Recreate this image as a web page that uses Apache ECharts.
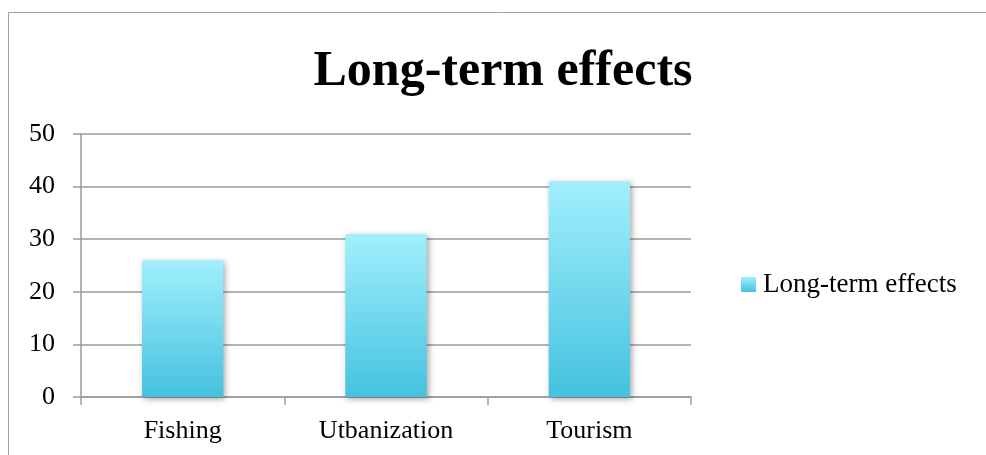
<!DOCTYPE html>
<html>
<head>
<meta charset="utf-8">
<style>
  html, body { margin: 0; padding: 0; background: #fff; }
  #chart { width: 986px; height: 455px; }
</style>
<script src="https://cdn.jsdelivr.net/npm/echarts@6/dist/echarts.min.js"></script>
</head>
<body>
<div id="chart"></div>
<script>
// Chart data
const categories = ['Fishing', 'Utbanization', 'Tourism'];
const seriesName = 'Long-term effects';
const values = [26, 31, 41];
const yTicks = [0, 10, 20, 30, 40, 50];

const serif = '"Liberation Serif", "DejaVu Serif", serif';
const gridColor = '#9a9a9a';

const chart = echarts.init(document.getElementById('chart'), null, { renderer: 'canvas' });

chart.setOption({
  animation: false,
  backgroundColor: '#ffffff',
  title: {
    text: 'Long-term effects',
    left: 498,
    textAlign: 'center',
    top: 42,
    textStyle: { fontFamily: serif, fontWeight: 'bold', fontSize: 50, color: '#000' }
  },
  legend: {
    data: [seriesName],
    icon: 'rect',
    left: 741,
    top: 271,
    padding: 0,
    itemWidth: 15,
    itemHeight: 15,
    textStyle: { fontFamily: serif, fontSize: 27, color: '#000', padding: [0, 0, 0, 2] }
  },
  graphic: [{
    type: 'polyline',
    shape: { points: [[8.5, 460], [8.5, 12.5], [990, 12.5]] },
    style: { stroke: '#a0a0a0', lineWidth: 1, fill: null },
    silent: true
  }],
  grid: { left: 81, right: 295, top: 134, bottom: 58 },
  xAxis: {
    type: 'category',
    data: categories,
    axisLine: { lineStyle: { color: gridColor, width: 1.5 } },
    axisTick: { show: true, length: 8, lineStyle: { color: gridColor, width: 1.5 } },
    axisLabel: { fontFamily: serif, fontSize: 26, color: '#000', margin: 21 }
  },
  yAxis: {
    type: 'value',
    min: yTicks[0],
    max: yTicks[yTicks.length - 1],
    interval: yTicks[1] - yTicks[0],
    axisLine: { show: true, lineStyle: { color: gridColor, width: 1.5 } },
    axisTick: { show: true, length: 8, lineStyle: { color: gridColor, width: 1.5 } },
    splitLine: { lineStyle: { color: gridColor, width: 1.5 } },
    axisLabel: { fontFamily: serif, fontSize: 26, color: '#000', margin: 26 }
  },
  series: [{
    name: seriesName,
    type: 'bar',
    data: values,
    barWidth: '40%',
    itemStyle: {
      color: new echarts.graphic.LinearGradient(0, 0, 0, 1, [
        { offset: 0, color: '#a2effd' },
        { offset: 1, color: '#44c2df' }
      ]),
      shadowColor: 'rgba(0,0,0,0.35)',
      shadowBlur: 6,
      shadowOffsetX: 2,
      shadowOffsetY: 2
    }
  }]
});
</script>
</body>
</html>
